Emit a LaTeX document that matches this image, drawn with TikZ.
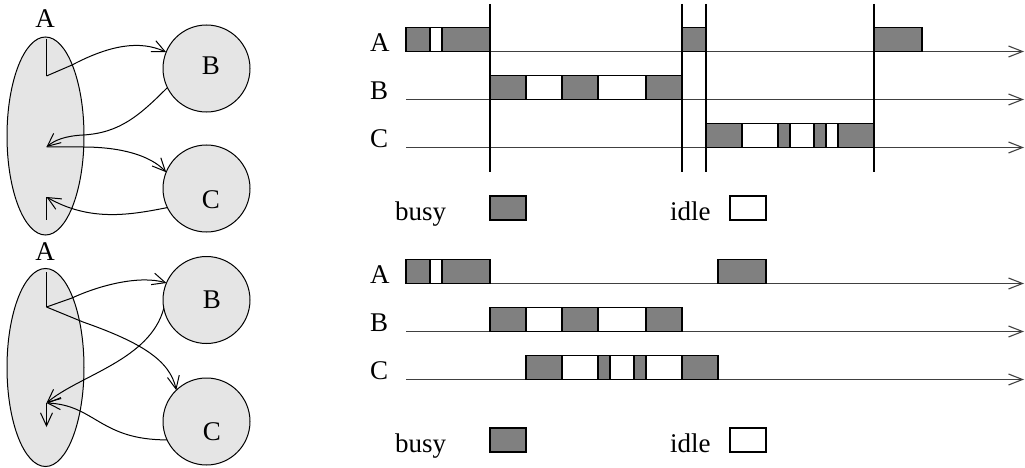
\documentclass[tikz,border=0pt]{standalone}
\usepackage{fontspec}
\setmainfont{Liberation Serif}
\usetikzlibrary{arrows.meta,shapes.geometric}
\begin{document}
\begin{tikzpicture}[x=1pt,y=-1pt,
  every node/.style={font=\fontsize{27}{31}\selectfont, inner sep=0pt, outer sep=0pt},
  ell/.style={ellipse, draw, line width=1pt, fill=black!10, minimum width=77pt, minimum height=198pt},
  circ/.style={circle, draw, line width=1pt, fill=black!10, minimum size=87pt},
  lbl/.style={anchor=base},
  link/.style={line width=1pt, -{Straight Barb[length=13pt,width=12pt,line width=1pt]}},
  plain/.style={line width=1pt},
  axis/.style={line width=1.1pt, draw=black!75, -{Straight Barb[length=14pt,width=11pt,line width=1.1pt]}},
  box/.style={draw=black, line width=1.2pt},
  sync/.style={line width=2pt},
]
\useasboundingbox (0,0) rectangle (1025,468);

% ---------- top graph ----------
\node[ell] (A1) at (45.5,136) {};
\node[circ] (B1) at (206.5,68.5) {};
\node[circ] (C1) at (206.5,188.5) {};
\node[lbl] (A1t) at (45,28) {A};
\node[lbl] (B1t) at (211,75) {B};
\node[lbl] (C1t) at (211,208) {C};
\coordinate (p1) at (46.5,39);
\coordinate (p2) at (46.5,76);
\coordinate (p3) at (46.5,147);
\coordinate (p4) at (46.5,197);
\coordinate (p5) at (46.5,220);
\draw[plain] (p1) -- (p2);
\draw[link] (p2) -- (72,65) .. controls (110,45) and (140,40) .. (B1.158);
\draw[link] (B1.206) .. controls (140,115) and (120,133) .. (83,135) .. controls (65,136) and (55,140) .. (p3);
\draw[link] (p3) -- (83,147) .. controls (120,147) and (150,155) .. (C1.158);
\draw[link] (C1.206) .. controls (130,215) and (90,222) .. (p4);
\draw[plain] (p4) -- (p5);

% ---------- bottom graph ----------
\node[ell] (A2) at (45.5,367.5) {};
\node[circ] (B2) at (206.5,300) {};
\node[circ] (C2) at (206.5,421.5) {};
\node[lbl] (A2t) at (45,260) {A};
\node[lbl] (B2t) at (212,308) {B};
\node[lbl] (C2t) at (212,440) {C};
\coordinate (q1) at (46.5,272);
\coordinate (q2) at (46.5,307);
\coordinate (q3) at (46.5,403);
\coordinate (q4) at (46.5,427);
\draw[plain] (q1) -- (q2);
\draw[link] (q2) -- (72,298) .. controls (100,285) and (140,275) .. (B2.157);
\draw[link] (q2) -- (83,322) .. controls (140,342) and (170,360) .. (C2.134);
\draw[link] (B2.191) .. controls (150,360) and (80,375) .. (q3);
\draw[link] (C2.205) .. controls (100,440) and (95,405) .. (q3);
\draw[link] (q3) -- (q4);

% ---------- top timeline ----------
\foreach \nm/\y in {A/51.5, B/99.5, C/147.5} {
  \node[anchor=base west] (r1\nm) at (370,\y) {\nm};
  \coordinate (s1\nm) at (406,\y);
  \coordinate (e1\nm) at (1024,\y);
  \draw[axis] (s1\nm) -- (e1\nm);
}
\foreach \a/\b/\c/\y in {0/2/gray/51.5, 2/3/white/51.5, 3/7/gray/51.5, 23/25/gray/51.5, 39/43/gray/51.5,
  7/10/gray/99.5, 10/13/white/99.5, 13/16/gray/99.5, 16/20/white/99.5, 20/23/gray/99.5,
  25/28/gray/147.5, 28/31/white/147.5, 31/32/gray/147.5, 32/34/white/147.5, 34/35/gray/147.5, 35/36/white/147.5, 36/39/gray/147.5}
  \draw[box, fill=\c] ({406+12*\a},{\y-24}) rectangle ({406+12*\b},\y);
\foreach \t in {7,23,25,39}
  \draw[sync] ({406+12*\t},4) -- ({406+12*\t},172);
\node[anchor=base west] (busy1) at (395,220) {busy};
\draw[box, fill=gray] (490,196) rectangle (526,220);
\node[anchor=base west] (idle1) at (670,220) {idle};
\draw[box, fill=white] (730,196) rectangle (766,220);

% ---------- bottom timeline ----------
\foreach \nm/\y in {A/283.5, B/331.5, C/379.5} {
  \node[anchor=base west] (r2\nm) at (370,\y) {\nm};
  \coordinate (s2\nm) at (406,\y);
  \coordinate (e2\nm) at (1024,\y);
  \draw[axis] (s2\nm) -- (e2\nm);
}
\foreach \a/\b/\c/\y in {0/2/gray/283.5, 2/3/white/283.5, 3/7/gray/283.5, 26/30/gray/283.5,
  7/10/gray/331.5, 10/13/white/331.5, 13/16/gray/331.5, 16/20/white/331.5, 20/23/gray/331.5,
  10/13/gray/379.5, 13/16/white/379.5, 16/17/gray/379.5, 17/19/white/379.5, 19/20/gray/379.5, 20/23/white/379.5, 23/26/gray/379.5}
  \draw[box, fill=\c] ({406+12*\a},{\y-24}) rectangle ({406+12*\b},\y);
\node[anchor=base west] (busy2) at (395,452) {busy};
\draw[box, fill=gray] (490,428) rectangle (526,452);
\node[anchor=base west] (idle2) at (670,452) {idle};
\draw[box, fill=white] (730,428) rectangle (766,452);
\end{tikzpicture}
\end{document}
